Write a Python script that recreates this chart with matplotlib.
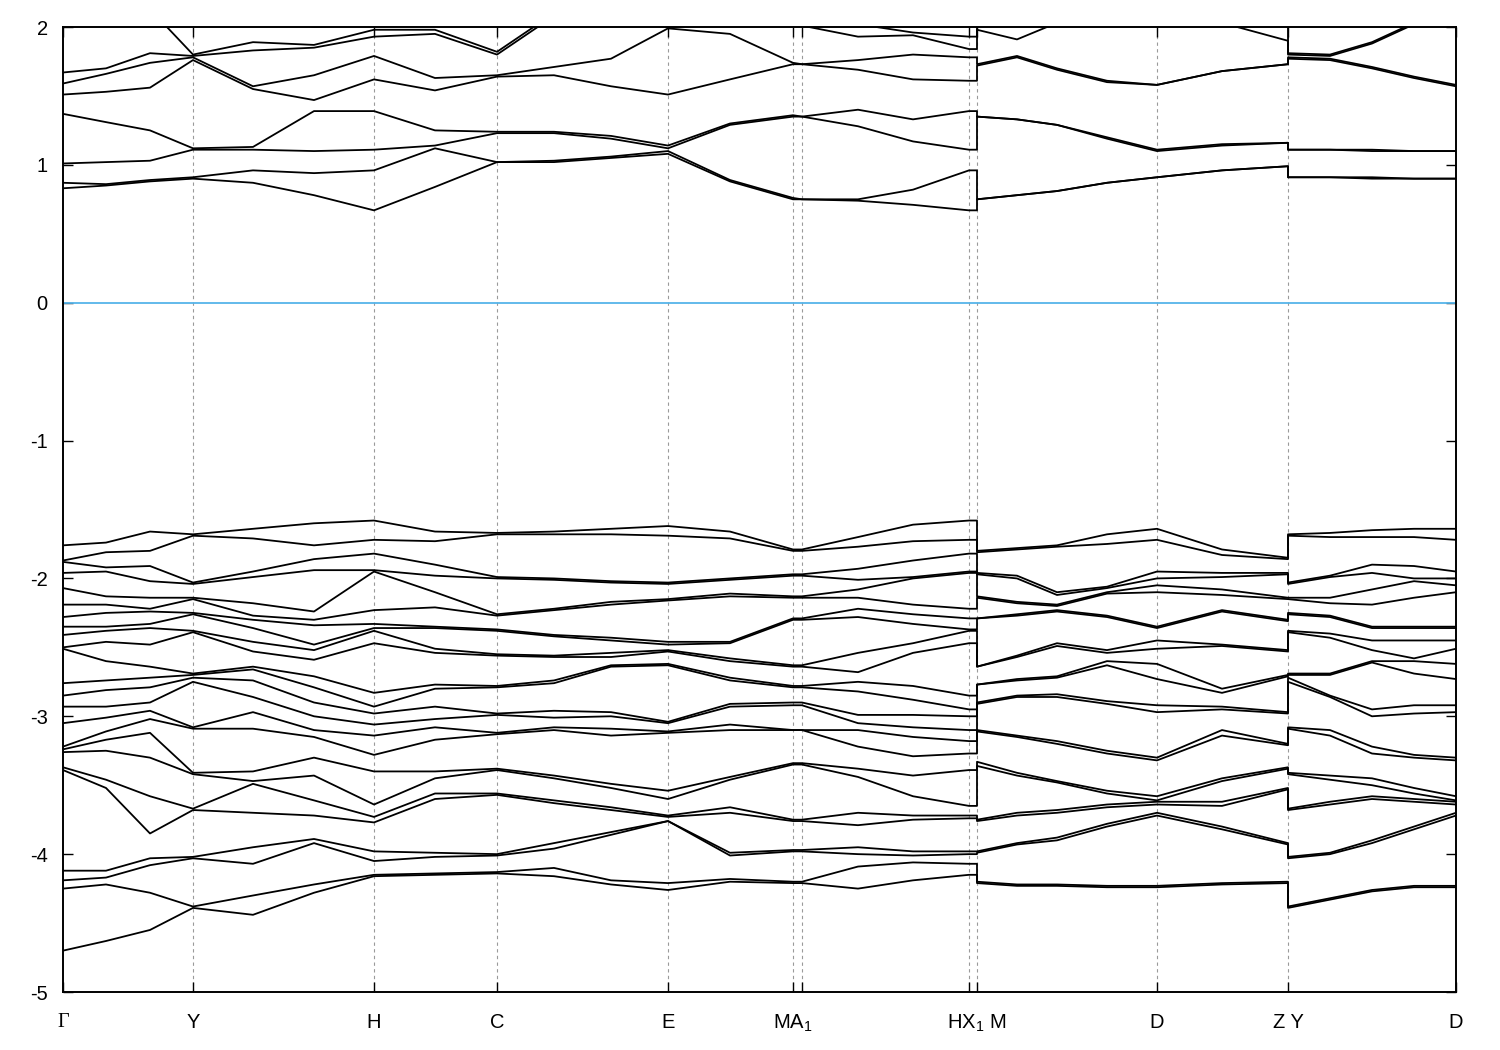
import numpy as np
import matplotlib
matplotlib.use("Agg")
import matplotlib.pyplot as plt

plt.rcParams['font.family'] = ['Liberation Sans', 'DejaVu Sans']
plt.rcParams['axes.unicode_minus'] = False

# high-symmetry points (path coordinate) and their labels
# (M1/A and X/H1|M sit so close that their labels print as one string)
tick_k = [0.00, 1.30, 3.11, 4.34, 6.05, 7.30, 7.39, 9.06, 9.14, 10.94, 12.25, 13.93]
tick_labels = ['Γ', 'Y', 'H', 'C', 'E', r'$\mathregular{MA_1}$', '', '',
               r'$\mathregular{HX_1}$ M', 'D', 'Z Y', 'D']

# k-path sample positions (repeated k = discontinuity H1|M and Z|Y)
kpath = [0.00, 0.43, 0.87, 1.30, 1.90, 2.51, 3.11, 3.72, 4.34, 4.91, 5.48, 6.05,
         6.67, 7.30, 7.39, 7.95, 8.50, 9.06, 9.14,
         9.14, 9.54, 9.94, 10.44, 10.94, 11.59, 12.25,
         12.25, 12.67, 13.09, 13.51, 13.93]

# conduction bands (eV), one row per k sample, sorted by energy
cond = [
    [0.83, 0.87, 1.01, 1.37, 1.51, 1.59, 1.67, 2.30, 2.40, 2.50],
    [0.85, 0.86, 1.02, 1.31, 1.53, 1.66, 1.70, 2.30, 2.40, 2.50],
    [0.88, 0.89, 1.03, 1.25, 1.56, 1.74, 1.81, 2.13, 2.35, 2.45],
    [0.90, 0.91, 1.11, 1.12, 1.76, 1.78, 1.79, 1.80, 2.20, 2.35],
    [0.87, 0.96, 1.11, 1.13, 1.55, 1.57, 1.83, 1.89, 2.10, 2.30],
    [0.78, 0.94, 1.10, 1.39, 1.47, 1.65, 1.85, 1.87, 2.00, 2.30],
    [0.67, 0.96, 1.11, 1.39, 1.62, 1.79, 1.93, 1.98, 2.02, 2.30],
    [0.84, 1.12, 1.14, 1.25, 1.54, 1.63, 1.95, 1.98, 2.03, 2.30],
    [1.02, 1.02, 1.23, 1.24, 1.64, 1.65, 1.80, 1.82, 2.15, 2.30],
    [1.02, 1.03, 1.23, 1.24, 1.65, 1.71, 2.08, 2.10, 2.20, 2.35],
    [1.05, 1.06, 1.19, 1.21, 1.57, 1.77, 2.05, 2.10, 2.20, 2.35],
    [1.08, 1.10, 1.12, 1.14, 1.51, 1.99, 2.00, 2.10, 2.20, 2.35],
    [0.88, 0.89, 1.29, 1.30, 1.62, 1.95, 2.02, 2.10, 2.20, 2.35],
    [0.75, 0.76, 1.35, 1.36, 1.73, 1.74, 2.02, 2.05, 2.20, 2.35],
    [0.75, 0.75, 1.35, 1.35, 1.73, 1.73, 2.01, 2.05, 2.20, 2.35],
    [0.74, 0.75, 1.28, 1.40, 1.69, 1.76, 1.93, 2.02, 2.20, 2.35],
    [0.71, 0.82, 1.17, 1.33, 1.62, 1.80, 1.94, 1.96, 2.20, 2.35],
    [0.67, 0.96, 1.11, 1.39, 1.61, 1.78, 1.84, 1.93, 2.20, 2.35],
    [0.67, 0.96, 1.11, 1.39, 1.61, 1.78, 1.84, 1.93, 2.20, 2.35],
    [0.75, 0.75, 1.35, 1.35, 1.72, 1.73, 1.98, 2.10, 2.20, 2.35],
    [0.78, 0.78, 1.33, 1.33, 1.78, 1.79, 1.91, 2.10, 2.20, 2.35],
    [0.81, 0.81, 1.29, 1.29, 1.69, 1.70, 2.03, 2.10, 2.20, 2.35],
    [0.87, 0.87, 1.19, 1.20, 1.60, 1.61, 2.15, 2.20, 2.30, 2.40],
    [0.91, 0.91, 1.10, 1.11, 1.58, 1.58, 2.20, 2.25, 2.30, 2.40],
    [0.96, 0.96, 1.14, 1.15, 1.68, 1.68, 2.03, 2.20, 2.30, 2.40],
    [0.99, 0.99, 1.16, 1.16, 1.73, 1.73, 1.90, 2.10, 2.20, 2.35],
    [0.91, 0.91, 1.11, 1.11, 1.77, 1.78, 1.80, 1.81, 2.20, 2.35],
    [0.91, 0.91, 1.11, 1.11, 1.76, 1.77, 1.79, 1.80, 2.20, 2.35],
    [0.90, 0.91, 1.10, 1.11, 1.70, 1.71, 1.88, 1.89, 2.20, 2.35],
    [0.90, 0.90, 1.10, 1.10, 1.63, 1.64, 2.02, 2.03, 2.20, 2.35],
    [0.90, 0.90, 1.10, 1.10, 1.57, 1.58, 2.20, 2.22, 2.30, 2.40],
]

# valence bands (eV), one row per k sample, sorted from top
val = [
    [-1.76, -1.87, -1.88, -1.96, -2.07, -2.19, -2.28, -2.35, -2.41, -2.50, -2.51, -2.76, -2.85, -2.93, -3.05, -3.22, -3.24, -3.26, -3.37, -3.39, -4.12, -4.19, -4.25, -4.70],
    [-1.74, -1.81, -1.92, -1.95, -2.13, -2.19, -2.25, -2.35, -2.38, -2.46, -2.60, -2.74, -2.81, -2.93, -3.01, -3.11, -3.17, -3.25, -3.46, -3.52, -4.12, -4.17, -4.22, -4.63],
    [-1.66, -1.80, -1.91, -2.02, -2.14, -2.22, -2.24, -2.33, -2.36, -2.48, -2.64, -2.72, -2.79, -2.90, -2.96, -3.02, -3.12, -3.30, -3.58, -3.85, -4.03, -4.08, -4.28, -4.55],
    [-1.68, -1.69, -2.03, -2.04, -2.14, -2.15, -2.25, -2.26, -2.38, -2.39, -2.69, -2.70, -2.72, -2.75, -3.08, -3.09, -3.41, -3.42, -3.67, -3.68, -4.02, -4.03, -4.38, -4.39],
    [-1.64, -1.71, -1.95, -1.99, -2.18, -2.27, -2.30, -2.36, -2.46, -2.53, -2.64, -2.66, -2.74, -2.86, -2.97, -3.09, -3.40, -3.47, -3.49, -3.70, -3.95, -4.07, -4.30, -4.44],
    [-1.60, -1.76, -1.86, -1.94, -2.24, -2.30, -2.34, -2.48, -2.52, -2.59, -2.71, -2.79, -2.90, -3.00, -3.10, -3.15, -3.30, -3.43, -3.61, -3.72, -3.89, -3.92, -4.22, -4.28],
    [-1.58, -1.72, -1.82, -1.94, -1.95, -2.23, -2.33, -2.36, -2.38, -2.47, -2.83, -2.93, -2.98, -3.06, -3.14, -3.28, -3.40, -3.64, -3.73, -3.77, -3.98, -4.05, -4.15, -4.16],
    [-1.66, -1.73, -1.90, -1.98, -2.10, -2.21, -2.35, -2.36, -2.51, -2.54, -2.77, -2.80, -2.93, -3.02, -3.08, -3.17, -3.40, -3.45, -3.56, -3.60, -3.99, -4.02, -4.14, -4.15],
    [-1.67, -1.68, -1.99, -2.00, -2.26, -2.27, -2.37, -2.38, -2.55, -2.56, -2.78, -2.79, -2.98, -2.99, -3.12, -3.13, -3.38, -3.39, -3.56, -3.57, -4.00, -4.01, -4.13, -4.14],
    [-1.66, -1.68, -2.00, -2.01, -2.22, -2.23, -2.41, -2.42, -2.56, -2.57, -2.74, -2.76, -2.96, -3.01, -3.08, -3.10, -3.43, -3.45, -3.61, -3.63, -3.92, -3.96, -4.10, -4.16],
    [-1.64, -1.68, -2.02, -2.03, -2.17, -2.19, -2.43, -2.45, -2.54, -2.57, -2.63, -2.64, -2.97, -3.00, -3.09, -3.14, -3.49, -3.52, -3.66, -3.68, -3.84, -3.86, -4.19, -4.22],
    [-1.62, -1.69, -2.03, -2.04, -2.15, -2.16, -2.46, -2.48, -2.52, -2.53, -2.62, -2.63, -3.04, -3.05, -3.11, -3.12, -3.54, -3.60, -3.72, -3.73, -3.76, -3.76, -4.21, -4.26],
    [-1.66, -1.71, -2.00, -2.01, -2.11, -2.13, -2.46, -2.47, -2.58, -2.60, -2.72, -2.74, -2.91, -2.93, -3.06, -3.10, -3.44, -3.46, -3.66, -3.70, -3.99, -4.01, -4.18, -4.20],
    [-1.79, -1.80, -1.97, -1.98, -2.13, -2.14, -2.29, -2.30, -2.63, -2.64, -2.78, -2.79, -2.90, -2.92, -3.10, -3.10, -3.34, -3.35, -3.75, -3.76, -3.97, -3.98, -4.20, -4.21],
    [-1.79, -1.80, -1.97, -1.98, -2.13, -2.14, -2.29, -2.30, -2.63, -2.64, -2.78, -2.79, -2.90, -2.92, -3.10, -3.10, -3.34, -3.35, -3.75, -3.76, -3.97, -3.98, -4.20, -4.21],
    [-1.70, -1.77, -1.93, -2.01, -2.08, -2.14, -2.22, -2.28, -2.54, -2.68, -2.75, -2.82, -2.99, -3.05, -3.10, -3.22, -3.38, -3.44, -3.70, -3.79, -3.95, -4.00, -4.09, -4.25],
    [-1.61, -1.73, -1.87, -1.99, -2.00, -2.19, -2.26, -2.33, -2.47, -2.54, -2.78, -2.88, -2.99, -3.08, -3.15, -3.29, -3.43, -3.58, -3.72, -3.75, -3.98, -4.01, -4.06, -4.19],
    [-1.58, -1.72, -1.82, -1.95, -1.96, -2.22, -2.29, -2.37, -2.38, -2.47, -2.85, -2.95, -3.00, -3.10, -3.18, -3.27, -3.39, -3.65, -3.72, -3.74, -3.98, -4.00, -4.07, -4.15],
    [-1.58, -1.72, -1.82, -1.95, -1.96, -2.22, -2.29, -2.37, -2.38, -2.47, -2.85, -2.95, -3.00, -3.10, -3.18, -3.27, -3.39, -3.65, -3.72, -3.74, -3.98, -4.00, -4.07, -4.15],
    [-1.80, -1.81, -1.96, -1.97, -2.13, -2.14, -2.29, -2.29, -2.64, -2.64, -2.77, -2.77, -2.90, -2.91, -3.10, -3.11, -3.33, -3.36, -3.75, -3.76, -3.98, -3.99, -4.20, -4.21],
    [-1.78, -1.79, -1.98, -2.00, -2.17, -2.18, -2.26, -2.27, -2.56, -2.57, -2.73, -2.74, -2.85, -2.86, -3.14, -3.15, -3.41, -3.43, -3.70, -3.72, -3.92, -3.93, -4.22, -4.23],
    [-1.76, -1.77, -2.10, -2.12, -2.19, -2.20, -2.23, -2.24, -2.47, -2.49, -2.71, -2.72, -2.84, -2.86, -3.18, -3.20, -3.47, -3.48, -3.68, -3.70, -3.88, -3.90, -4.22, -4.23],
    [-1.68, -1.75, -2.06, -2.07, -2.10, -2.11, -2.27, -2.28, -2.52, -2.54, -2.60, -2.63, -2.89, -2.91, -3.25, -3.27, -3.54, -3.56, -3.64, -3.66, -3.78, -3.80, -4.23, -4.24],
    [-1.64, -1.72, -1.95, -2.00, -2.05, -2.10, -2.35, -2.36, -2.45, -2.51, -2.62, -2.73, -2.92, -2.97, -3.30, -3.32, -3.58, -3.61, -3.62, -3.64, -3.70, -3.72, -4.23, -4.24],
    [-1.79, -1.83, -1.96, -1.99, -2.08, -2.12, -2.23, -2.24, -2.48, -2.49, -2.80, -2.83, -2.93, -2.95, -3.10, -3.14, -3.45, -3.47, -3.62, -3.65, -3.80, -3.82, -4.21, -4.22],
    [-1.85, -1.86, -1.96, -1.97, -2.14, -2.15, -2.30, -2.31, -2.52, -2.53, -2.70, -2.71, -2.97, -2.98, -3.20, -3.21, -3.37, -3.38, -3.52, -3.53, -3.92, -3.93, -4.20, -4.21],
    [-1.68, -1.69, -2.03, -2.04, -2.14, -2.15, -2.25, -2.26, -2.38, -2.39, -2.69, -2.70, -2.72, -2.75, -3.08, -3.09, -3.41, -3.42, -3.67, -3.68, -4.02, -4.03, -4.38, -4.39],
    [-1.67, -1.70, -1.98, -1.99, -2.14, -2.18, -2.27, -2.28, -2.40, -2.43, -2.69, -2.70, -2.85, -2.86, -3.10, -3.14, -3.43, -3.46, -3.62, -3.64, -3.99, -4.00, -4.32, -4.33],
    [-1.65, -1.70, -1.90, -1.96, -2.08, -2.19, -2.35, -2.36, -2.45, -2.52, -2.60, -2.61, -2.95, -3.00, -3.22, -3.27, -3.45, -3.50, -3.58, -3.60, -3.90, -3.92, -4.26, -4.27],
    [-1.64, -1.70, -1.91, -2.00, -2.02, -2.14, -2.35, -2.36, -2.45, -2.58, -2.60, -2.69, -2.92, -2.98, -3.28, -3.30, -3.52, -3.56, -3.60, -3.62, -3.80, -3.82, -4.23, -4.24],
    [-1.64, -1.72, -1.95, -2.00, -2.05, -2.10, -2.35, -2.36, -2.45, -2.51, -2.62, -2.73, -2.92, -2.97, -3.30, -3.32, -3.58, -3.61, -3.62, -3.64, -3.70, -3.72, -4.23, -4.24],
]

yticks = [-5, -4, -3, -2, -1, 0, 1, 2]
ytick_labels = ['-5', '-4', '-3', '-2', '-1', '0', '1', '2']

W, H = 1500, 1050
fig = plt.figure(figsize=(W / 100, H / 100), dpi=100)
ax = fig.add_axes([63 / W, 1 - 992 / H, (1456 - 63) / W, (992 - 27) / H])

k = np.array(kpath)
for table in (cond, val):
    arr = np.array(table)
    for i in range(arr.shape[1]):
        ax.plot(k, arr[:, i], color='black', lw=1.3, zorder=3,
                solid_joinstyle='round')

ax.axhline(0, color='#56b4e9', lw=1.3, zorder=2)
for kk in tick_k[1:-1]:
    ax.axvline(kk, color='#9a9a9a', lw=0.8, ls=(0, (3, 3)), zorder=1)

ax.set_xlim(tick_k[0], tick_k[-1])
ax.set_ylim(-5, 2)
ax.set_xticks(tick_k)
ax.set_xticklabels(tick_labels)
ax.set_yticks(yticks)
ax.set_yticklabels(ytick_labels)
ax.tick_params(axis='both', direction='in', length=7, width=1.0,
               top=True, right=True, labelsize=14.5)
ax.tick_params(axis='x', pad=15)
ax.tick_params(axis='y', pad=11)
for lab in ax.get_xticklabels():
    if lab.get_text() == 'Γ':
        lab.set_fontfamily(['Liberation Serif', 'DejaVu Serif'])
for sp in ax.spines.values():
    sp.set_linewidth(1.4)

fig.savefig('out.png', dpi=100)
